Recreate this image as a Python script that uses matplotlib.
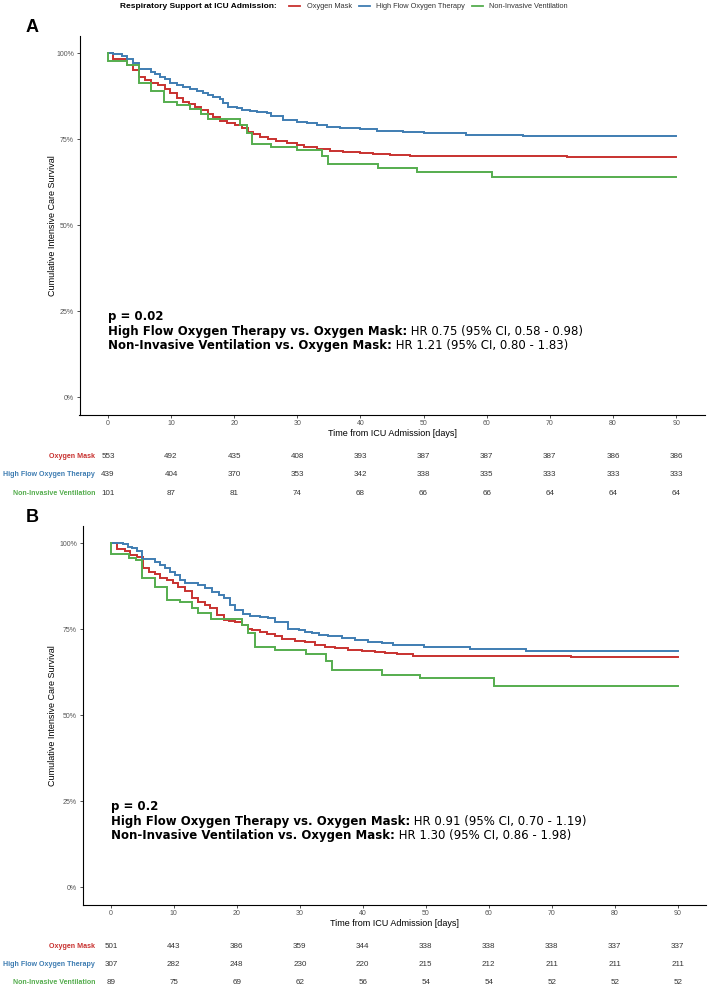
import matplotlib
matplotlib.use('Agg')
import matplotlib.pyplot as plt
import matplotlib.transforms as mtransforms
from matplotlib.lines import Line2D

plt.rcParams.update({
    'font.family': ['Liberation Sans', 'DejaVu Sans'],
    'axes.linewidth': 0.8,
})

W, H = 708, 989

groups = ['Oxygen Mask', 'High Flow Oxygen Therapy', 'Non-Invasive Ventilation']
colors = ['#C8312F', '#3F7DB2', '#55AD4E']
risk_days = [0, 10, 20, 30, 40, 50, 60, 70, 80, 90]
comparisons = ['High Flow Oxygen Therapy vs. Oxygen Mask:',
               'Non-Invasive Ventilation vs. Oxygen Mask:']

# --- panel A: Kaplan-Meier steps (day, survival after that day) ---
a_om_t = [0, 0.84, 2.96, 4.0, 4.9, 5.9, 6.9, 8.0, 9.0, 9.8, 10.9, 11.9, 12.9, 13.8, 14.8,
          15.9, 16.7, 17.7, 18.8, 20.1, 21.2, 22.2, 23.0, 24.1, 25.4, 26.7, 28.3, 29.9,
          31.0, 33.1, 35.2, 37.3, 39.9, 42.0, 44.7, 47.9, 72.7, 90]
a_om_s = [1.0, 0.982, 0.965, 0.951, 0.930, 0.922, 0.912, 0.907, 0.895, 0.883, 0.869, 0.859,
          0.852, 0.844, 0.835, 0.823, 0.814, 0.803, 0.798, 0.791, 0.782, 0.772, 0.765, 0.757,
          0.751, 0.746, 0.740, 0.733, 0.728, 0.722, 0.717, 0.712, 0.709, 0.706, 0.703, 0.701,
          0.699, 0.699]
a_hf_t = [0, 0.84, 2.2, 2.96, 4.0, 4.9, 6.9, 7.45, 8.24, 9.03, 9.83, 10.9, 11.9, 13.0, 14.1,
          15.1, 15.9, 16.7, 17.7, 18.3, 19.1, 20.4, 21.2, 22.5, 23.6, 25.2, 25.9, 27.8, 29.9,
          31.5, 33.1, 34.7, 36.8, 39.9, 42.6, 46.8, 50.0, 51.8, 56.8, 65.8, 90]
a_hf_s = [1.0, 0.997, 0.992, 0.982, 0.972, 0.954, 0.946, 0.939, 0.931, 0.924, 0.914, 0.907,
          0.901, 0.895, 0.891, 0.885, 0.878, 0.873, 0.866, 0.856, 0.844, 0.840, 0.835, 0.832,
          0.830, 0.825, 0.817, 0.806, 0.801, 0.796, 0.791, 0.786, 0.782, 0.779, 0.775, 0.772,
          0.769, 0.767, 0.762, 0.760, 0.760]
a_niv_t = [0, 0, 3.0, 4.9, 6.9, 8.9, 10.9, 13.0, 14.8, 15.9, 20.9, 22.0, 22.8, 25.9, 30.0,
           33.9, 34.9, 42.8, 48.9, 60.8, 90]
a_niv_s = [1.0, 0.976, 0.965, 0.914, 0.891, 0.858, 0.850, 0.837, 0.822, 0.810, 0.791, 0.767,
           0.736, 0.728, 0.719, 0.702, 0.679, 0.666, 0.656, 0.640, 0.640]

a_risk_om = [553, 492, 435, 408, 393, 387, 387, 387, 386, 386]
a_risk_hf = [439, 404, 370, 353, 342, 338, 335, 333, 333, 333]
a_risk_niv = [101, 87, 81, 74, 68, 66, 66, 64, 64, 64]
a_p = 'p = 0.02'
a_hr = ['HR 0.75 (95% CI, 0.58 - 0.98)', 'HR 1.21 (95% CI, 0.80 - 1.83)']

# --- panel B ---
b_om_t = [0, 0.95, 2.27, 3.06, 4.1, 5.1, 6.0, 7.0, 7.8, 8.9, 9.9, 10.7, 11.8, 12.9, 13.9,
          15.0, 15.8, 16.8, 17.9, 18.7, 19.7, 20.8, 21.8, 22.4, 23.7, 24.8, 26.1, 27.1, 29.3,
          30.8, 32.4, 34.0, 35.6, 37.7, 39.8, 42.0, 43.5, 45.5, 48.0, 73.1, 90]
b_om_s = [1.0, 0.983, 0.978, 0.965, 0.960, 0.927, 0.917, 0.910, 0.900, 0.893, 0.883, 0.872,
          0.862, 0.840, 0.830, 0.820, 0.811, 0.791, 0.777, 0.774, 0.770, 0.762, 0.751, 0.748,
          0.743, 0.735, 0.729, 0.722, 0.716, 0.712, 0.704, 0.699, 0.695, 0.690, 0.687, 0.683,
          0.680, 0.677, 0.673, 0.670, 0.670]
b_hf_t = [0, 2.0, 2.8, 3.3, 4.1, 4.9, 7.0, 7.8, 8.6, 9.4, 10.2, 11.0, 11.8, 13.9, 15.0, 16.0,
          17.1, 17.9, 18.9, 19.7, 21.0, 22.1, 23.7, 25.0, 26.1, 28.2, 29.8, 30.8, 31.9, 33.0,
          34.5, 36.7, 38.8, 40.9, 43.0, 44.8, 49.8, 57.0, 65.9, 90]
b_hf_s = [1.0, 0.997, 0.989, 0.985, 0.977, 0.954, 0.946, 0.936, 0.927, 0.917, 0.907, 0.893,
          0.883, 0.878, 0.869, 0.859, 0.849, 0.840, 0.820, 0.806, 0.793, 0.789, 0.786, 0.782,
          0.770, 0.751, 0.748, 0.743, 0.738, 0.733, 0.729, 0.724, 0.719, 0.714, 0.709, 0.704,
          0.698, 0.692, 0.688, 0.688]
b_niv_t = [0, 0, 2.9, 4.0, 5.0, 7.0, 8.9, 11.0, 12.9, 13.8, 15.9, 20.9, 21.7, 22.9, 26.0,
           31.0, 34.2, 35.1, 43.0, 49.1, 60.9, 90]
b_niv_s = [1.0, 0.970, 0.958, 0.952, 0.900, 0.872, 0.836, 0.828, 0.813, 0.798, 0.781, 0.761,
           0.740, 0.699, 0.691, 0.679, 0.657, 0.632, 0.617, 0.608, 0.586, 0.586]

b_risk_om = [501, 443, 386, 359, 344, 338, 338, 338, 337, 337]
b_risk_hf = [307, 282, 248, 230, 220, 215, 212, 211, 211, 211]
b_risk_niv = [89, 75, 69, 62, 56, 54, 54, 52, 52, 52]
b_p = 'p = 0.2'
b_hr = ['HR 0.91 (95% CI, 0.70 - 1.19)', 'HR 1.30 (95% CI, 0.86 - 1.98)']


def px_rect(left, top, right, bottom):
    return [left / W, 1 - bottom / H, (right - left) / W, (bottom - top) / H]


fig = plt.figure(figsize=(W / 100, H / 100), dpi=100)


def draw_panel(rect, curves, risks, p_text, hr_texts, letter, dy):
    ax = fig.add_axes(px_rect(*rect))
    for (t, s), c in zip(curves, colors):
        ax.step(t, s, where='post', color=c, lw=1.4, solid_joinstyle='miter')

    ax.set_xlim(-4.5, 94.5)
    ax.set_ylim(-0.05, 1.05)
    ax.set_xticks(risk_days)
    ax.set_yticks([0, 0.25, 0.5, 0.75, 1.0])
    ax.set_yticklabels(['0%', '25%', '50%', '75%', '100%'])
    for sp in ['top', 'right']:
        ax.spines[sp].set_visible(False)
    ax.tick_params(length=2.5, width=0.6, color='#333333', labelcolor='#555555',
                   labelsize=5, pad=1.5)

    left, top, right, bottom = rect
    fig.text(((left + right) / 2) / W, 1 - (433 + dy) / H, 'Time from ICU Admission [days]',
             ha='center', va='center', fontsize=6.5)
    fig.text(53 / W, 1 - ((top + bottom) / 2) / H, 'Cumulative Intensive Care Survival',
             ha='center', va='center', rotation=90, fontsize=6.5)
    fig.text(32 / W, 1 - (28 + dy) / H, letter, ha='center', va='center',
             fontsize=13, fontweight='bold')

    # p value and hazard ratios
    fs = 8.5
    ax.text(0, 0.215, p_text, fontsize=fs, fontweight='bold', family='DejaVu Sans',
            va='bottom', ha='left')
    for yy, comp, hr in zip([0.171, 0.131], comparisons, hr_texts):
        tb = ax.text(0, yy, comp, fontsize=fs, fontweight='bold', family='DejaVu Sans',
                     va='bottom', ha='left')
        ax.annotate(' ' + hr, xy=(1, 0), xycoords=tb, fontsize=fs, family='DejaVu Sans',
                    va='bottom', ha='left')

    # number at risk table
    trans = mtransforms.blended_transform_factory(ax.transData, fig.transFigure)
    for i, (name, c, row) in enumerate(zip(groups, colors, risks)):
        yrow = 1 - (457 + dy + i * 18) / H
        fig.text(95 / W, yrow, name, ha='right', va='center', fontsize=5.1,
                 fontweight='bold', color=c)
        for d, n in zip(risk_days, row):
            ax.text(d, yrow, str(n), transform=trans, ha='center', va='center',
                    fontsize=5.8, color='#333333')
    return ax


draw_panel((79.5, 36, 704.5, 414.5),
           [(a_om_t, a_om_s), (a_hf_t, a_hf_s), (a_niv_t, a_niv_s)],
           [a_risk_om, a_risk_hf, a_risk_niv], a_p, a_hr, 'A', 0)
draw_panel((82.5, 526, 706, 904.5),
           [(b_om_t, b_om_s), (b_hf_t, b_hf_s), (b_niv_t, b_niv_s)],
           [b_risk_om, b_risk_hf, b_risk_niv], b_p, b_hr, 'B', 490)

# legend across the top
ly = 1 - 6 / H
fig.text(120 / W, ly, 'Respiratory Support at ICU Admission:', ha='left', va='center',
         fontsize=6, fontweight='bold')
leg_x = [(289, 307), (359, 376), (472, 489)]
for (x0, xt), name, c in zip(leg_x, groups, colors):
    fig.add_artist(Line2D([x0 / W, (x0 + 11) / W], [ly, ly], color=c, lw=1.3))
    fig.text(xt / W, ly, name, ha='left', va='center', fontsize=5.3, color='#333333')

fig.savefig('out.png', dpi=100)
